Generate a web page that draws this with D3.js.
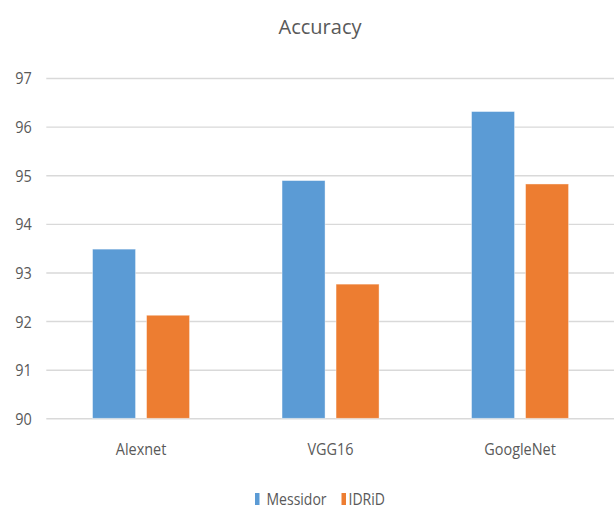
<!DOCTYPE html>
<html>
<head>
<meta charset="utf-8">
<script src="https://cdn.jsdelivr.net/npm/d3@7"></script>
<style>
  html, body { margin: 0; padding: 0; background: #ffffff; }
  svg { display: block; }
  text { font-family: "Open Sans", "Noto Sans", sans-serif; fill: #595959; }
</style>
</head>
<body>
<svg id="chart" width="614" height="509"></svg>
<script>
// Accuracy of three CNN models on two retinal image datasets
const models = ["Alexnet", "VGG16", "GoogleNet"];
const seriesNames = ["Messidor", "IDRiD"];
const messidor = [93.48, 94.89, 96.31];
const idrid = [92.12, 92.76, 94.82];
const yTicks = [90, 91, 92, 93, 94, 95, 96, 97];
const colors = ["#5B9BD5", "#ED7D31"];

const svg = d3.select("#chart");
const W = 614;
const plot = { left: 46.3, right: 614.8, top: 78, bottom: 418.3 };
const squeeze = 0.85; // narrow label face

const y = d3.scaleLinear().domain([90, 97]).range([plot.bottom, plot.top]);
const x = d3.scaleBand().domain(models).range([plot.left, plot.right])
  .paddingInner(0.488).paddingOuter(0.244);
const xs = d3.scaleBand().domain(seriesNames).range([0, x.bandwidth()])
  .paddingInner(0.2037);

// Title
svg.append("text")
  .attr("x", 320).attr("y", 34)
  .attr("text-anchor", "middle")
  .style("font-size", "20px")
  .text("Accuracy");

// Gridlines and y tick labels
const yAxis = svg.append("g")
  .attr("transform", `translate(${plot.left},0)`)
  .call(d3.axisLeft(y).tickValues(yTicks).tickSize(-(W - plot.left)).tickPadding(0));
yAxis.select(".domain").remove();
yAxis.selectAll(".tick line").attr("stroke", "#d9d9d9").attr("stroke-width", 1.4);
yAxis.selectAll(".tick text").remove();
yAxis.selectAll(".tick").append("text")
  .attr("transform", `translate(-14.6,0) scale(${squeeze},1)`)
  .attr("text-anchor", "end")
  .attr("dy", "0.35em")
  .style("font-size", "17px")
  .text(d => d);

// Bars
const rows = models.map((m, i) => ({ model: m, values: [messidor[i], idrid[i]] }));
const groups = svg.append("g").selectAll("g").data(rows).join("g")
  .attr("transform", d => `translate(${x(d.model)},0)`);
groups.selectAll("rect")
  .data(d => d.values.map((v, j) => ({ name: seriesNames[j], value: v, j })))
  .join("rect")
  .attr("x", d => xs(d.name))
  .attr("width", xs.bandwidth())
  .attr("y", d => y(d.value))
  .attr("height", d => y(90) - y(d.value))
  .attr("fill", d => colors[d.j])
  .attr("stroke", "#ffffff").attr("stroke-opacity", 0.5).attr("stroke-width", 0.8);

// Category labels
const xAxis = svg.append("g")
  .attr("transform", `translate(0,${plot.bottom})`)
  .call(d3.axisBottom(x).tickSize(0));
xAxis.select(".domain").remove();
xAxis.selectAll(".tick text").remove();
xAxis.selectAll(".tick").append("text")
  .attr("transform", `translate(0,36.5) scale(${squeeze},1)`)
  .attr("text-anchor", "middle")
  .style("font-size", "17px")
  .text(d => d);

// Legend
const legendItems = [
  { name: seriesNames[0], color: colors[0], kx: 255, tx: 266.5 },
  { name: seriesNames[1], color: colors[1], kx: 341.5, tx: 348.5 }
];
const legend = svg.append("g");
legendItems.forEach(it => {
  legend.append("rect")
    .attr("x", it.kx).attr("y", 493).attr("width", 4.5).attr("height", 12)
    .attr("fill", it.color);
  legend.append("text")
    .attr("transform", `translate(${it.tx},505) scale(${squeeze},1)`)
    .style("font-size", "16.5px")
    .text(it.name);
});
</script>
</body>
</html>
